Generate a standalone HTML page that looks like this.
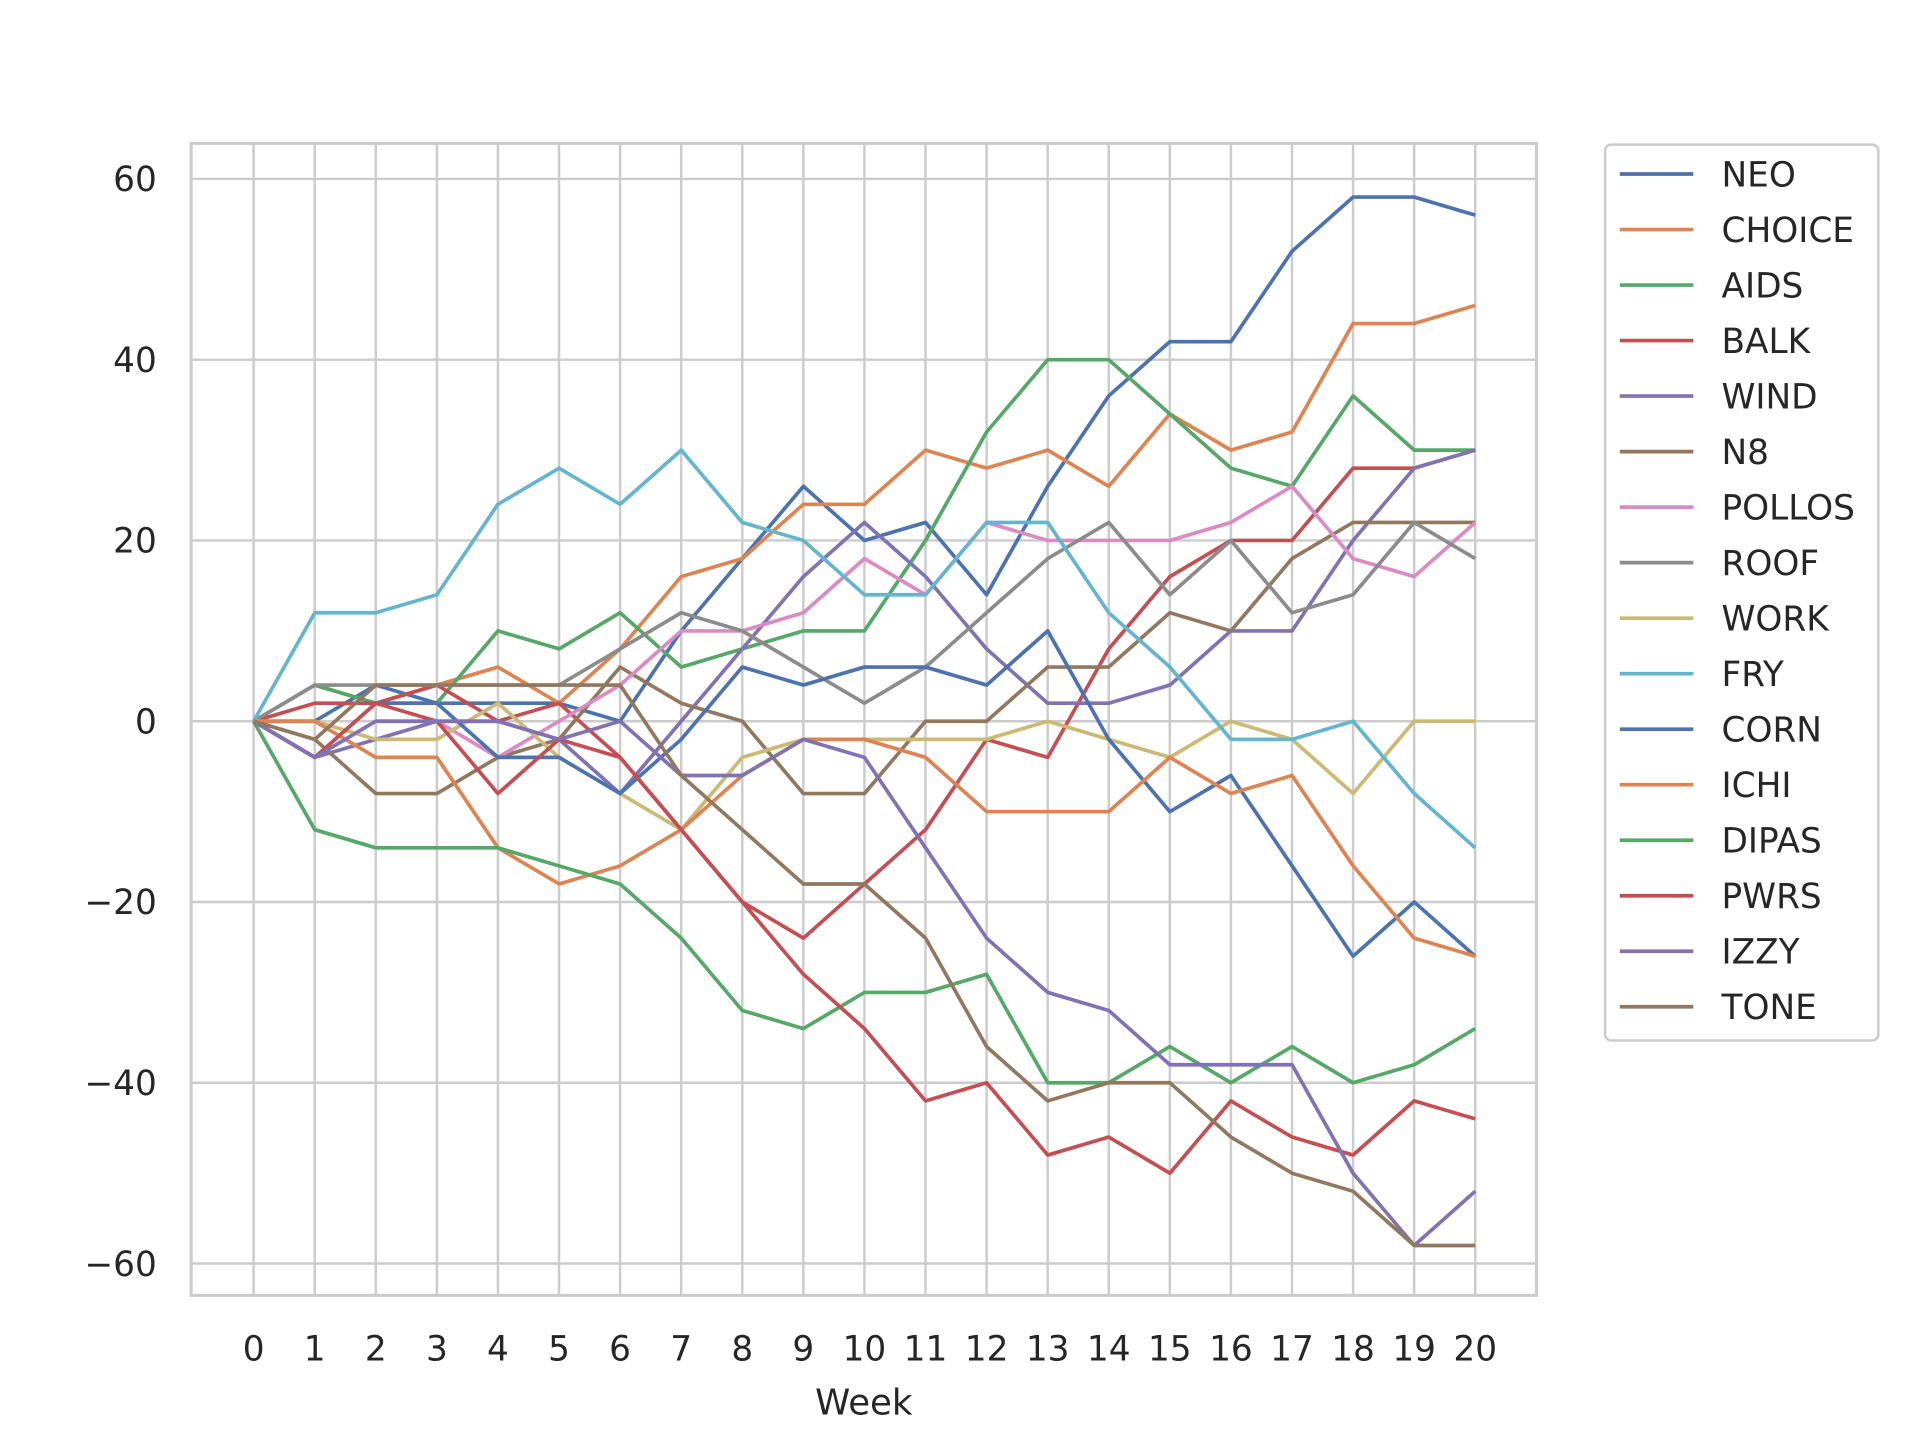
<!DOCTYPE html>
<html><head><meta charset="utf-8"><style>html,body{margin:0;padding:0;background:#fff}svg{display:block}</style></head>
<body>
<svg id="s" width="1920" height="1440" viewBox="0 0 1567 1175" preserveAspectRatio="none" xmlns="http://www.w3.org/2000/svg" font-family="'DejaVu Sans','Liberation Sans',sans-serif" fill="#262626"></svg>
<script>
const s=document.getElementById('s');
const X0=207,DX=(1204-207)/20,Y0=588.5,DY=885/120;
const L=156,R=1254,T=117,B=1057;
let h='<rect width="1567" height="1175" fill="#fff"/>';
for(let i=0;i<=20;i++){const x=X0+i*DX;h+=`<line x1="${x}" y1="${T}" x2="${x}" y2="${B}" stroke="#cccccc" stroke-width="2"/>`;
h+=`<text x="${x}" y="1110" font-size="28" text-anchor="middle">${i}</text>`;}
for(let v=-60;v<=60;v+=20){const y=Y0-v*DY;h+=`<line x1="${L}" y1="${y}" x2="${R}" y2="${y}" stroke="#cccccc" stroke-width="2"/>`;
h+=`<text x="128" y="${y+10}" font-size="28" text-anchor="end">${v<0?'\u2212'+(-v):v}</text>`;}
h+=`<rect x="${L}" y="${T}" width="${R-L}" height="${B-T}" fill="none" stroke="#cccccc" stroke-width="2.5"/>`;
h+=`<text x="705" y="1154" font-size="29" text-anchor="middle">Week</text>`;
const C=['#4c72b0','#dd8452','#55a868','#c44e52','#8172b3','#937860','#da8bc3','#8c8c8c','#ccb974','#64b5cd'];
const D=[
["NEO",[0,0,4,2,2,2,0,10,18,26,20,22,14,26,36,42,42,52,58,58,56]],
["CHOICE",[0,4,2,4,6,2,8,16,18,24,24,30,28,30,26,34,30,32,44,44,46]],
["AIDS",[0,4,2,2,10,8,12,6,8,10,10,20,32,40,40,34,28,26,36,30,30]],
["BALK",[0,2,2,4,0,2,-4,-12,-20,-24,-18,-12,-2,-4,8,16,20,20,28,28,30]],
["WIND",[0,-4,-2,0,0,-2,-8,0,8,16,22,16,8,2,2,4,10,10,20,28,30]],
["N8",[0,-2,-8,-8,-4,-2,6,2,0,-8,-8,0,0,6,6,12,10,18,22,22,22]],
["POLLOS",[0,-4,0,0,-4,0,4,10,10,12,18,14,22,20,20,20,22,26,18,16,22]],
["ROOF",[0,4,4,4,4,4,8,12,10,6,2,6,12,18,22,14,20,12,14,22,18]],
["WORK",[0,0,-2,-2,2,-4,-8,-12,-4,-2,-2,-2,-2,0,-2,-4,0,-2,-8,0,0]],
["FRY",[0,12,12,14,24,28,24,30,22,20,14,14,22,22,12,6,-2,-2,0,-8,-14]],
["CORN",[0,-4,2,2,-4,-4,-8,-2,6,4,6,6,4,10,-2,-10,-6,-16,-26,-20,-26]],
["ICHI",[0,0,-4,-4,-14,-18,-16,-12,-6,-2,-2,-4,-10,-10,-10,-4,-8,-6,-16,-24,-26]],
["DIPAS",[0,-12,-14,-14,-14,-16,-18,-24,-32,-34,-30,-30,-28,-40,-40,-36,-40,-36,-40,-38,-34]],
["PWRS",[0,-4,2,0,-8,-2,-4,-12,-20,-28,-34,-42,-40,-48,-46,-50,-42,-46,-48,-42,-44]],
["IZZY",[0,-4,0,0,0,-2,0,-6,-6,-2,-4,-14,-24,-30,-32,-38,-38,-38,-50,-58,-52]],
["TONE",[0,-2,4,4,4,4,4,-6,-12,-18,-18,-24,-36,-42,-40,-40,-46,-50,-52,-58,-58]]];
D.forEach((d,k)=>{const c=C[k%10];
h+=`<polyline fill="none" stroke="${c}" stroke-width="3" stroke-linejoin="round" points="${d[1].map((v,i)=>(X0+i*DX).toFixed(1)+','+(Y0-v*DY).toFixed(1)).join(' ')}"/>`;});
h+=`<rect x="1310" y="118" width="223" height="731" rx="5" fill="#fff" stroke="#cccccc" stroke-width="2"/>`;
D.forEach((d,k)=>{const y=142+k*45.3;h+=`<line x1="1322" y1="${y}" x2="1382" y2="${y}" stroke="${C[k%10]}" stroke-width="3"/><text x="1405" y="${y+10}" font-size="28">${d[0]}</text>`;});
s.innerHTML=h;
</script>
</body></html>
